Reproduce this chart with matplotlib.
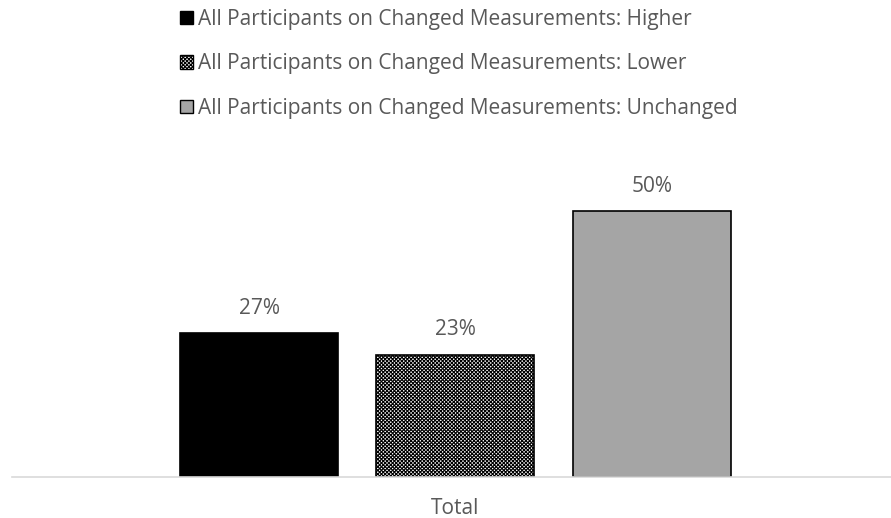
import matplotlib.pyplot as plt
from matplotlib.patches import Patch

plt.rcParams['font.family'] = ['Open Sans', 'DejaVu Sans']
plt.rcParams['hatch.linewidth'] = 0.8

categories = ['Total']
series = ['All Participants on Changed Measurements: Higher',
          'All Participants on Changed Measurements: Lower',
          'All Participants on Changed Measurements: Unchanged']
values = [27, 23, 50]
labels = ['27%', '23%', '50%']

faces = ['black', 'white', '#a5a5a5']
hatches = [None, 'xxxxxxxxx', None]
txt = '#595959'
fs = 15

fig = plt.figure(figsize=(8.91, 5.18), dpi=100)
ax = fig.add_axes([12 / 891, 41 / 518, 879 / 891, 326 / 518])

x = [0, 1, 2]
bars = ax.bar(x, values, width=0.806, color=faces, edgecolor='black',
              linewidth=1.2)
for b, h in zip(bars, hatches):
    if h:
        b.set_hatch(h)

# etiquetas de datos
for xi, v, s in zip(x, values, labels):
    ax.annotate(s, (xi, v), xytext=(0, 18), textcoords='offset points',
                ha='center', va='center', fontsize=fs, color=txt)

ax.set_xlim(-1.26, 3.22)
ax.set_ylim(0, 61.3)
ax.set_yticks([])
ax.set_xticks([1])
ax.set_xticklabels(categories, fontsize=fs, color=txt)
ax.tick_params(axis='x', length=0, pad=15)
for sp in ['top', 'right', 'left']:
    ax.spines[sp].set_visible(False)
ax.spines['bottom'].set_color('#d9d9d9')
ax.spines['bottom'].set_linewidth(1.2)

handles = [Patch(facecolor=f, edgecolor='black', hatch=h, linewidth=1.0)
           for f, h in zip(faces, hatches)]
leg = fig.legend(handles, series, loc='upper left',
                 bbox_to_anchor=(180 / 891, 1 - 9 / 518), frameon=False,
                 fontsize=fs, handlelength=0.62, handleheight=0.62,
                 handletextpad=0.25, labelspacing=1.12, labelcolor=txt,
                 borderpad=0, borderaxespad=0)

fig.savefig('out.png', dpi=100)
